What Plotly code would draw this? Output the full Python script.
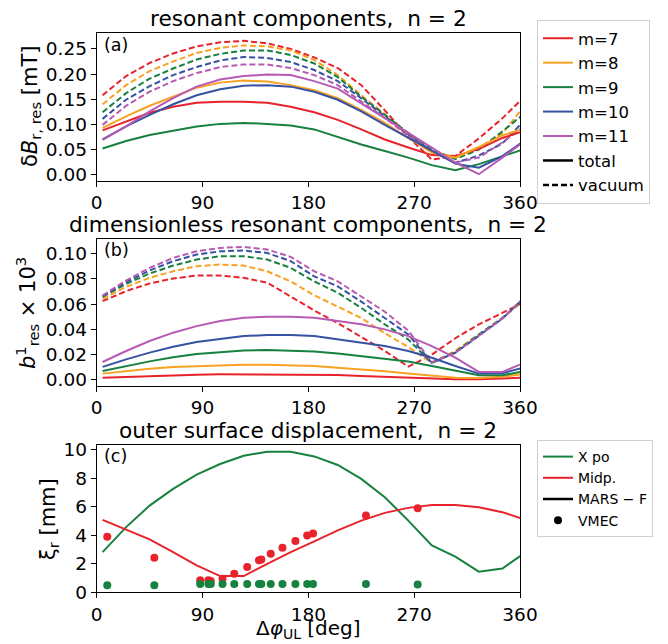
import plotly.graph_objects as go

# ---------------- data ----------------
phase_deg = [5, 25, 45, 65, 85, 105, 125, 145, 165, 185, 205, 225, 245, 265, 285, 305, 325, 345, 365]
mode_names = ["m=7", "m=8", "m=9", "m=10", "m=11"]

# (a) resonant components dB_r,res [mT]
a_total_m7 = [0.088, 0.106, 0.123, 0.135, 0.143, 0.145, 0.145, 0.143, 0.135, 0.124, 0.109, 0.090, 0.070, 0.054, 0.039, 0.037, 0.051, 0.073, 0.088]
a_total_m8 = [0.093, 0.116, 0.137, 0.155, 0.173, 0.183, 0.187, 0.185, 0.178, 0.168, 0.152, 0.129, 0.103, 0.073, 0.044, 0.034, 0.055, 0.078, 0.093]
a_total_m9 = [0.052, 0.067, 0.079, 0.088, 0.096, 0.101, 0.103, 0.101, 0.098, 0.090, 0.075, 0.060, 0.047, 0.034, 0.019, 0.009, 0.021, 0.037, 0.052]
a_total_m10 = [0.070, 0.096, 0.119, 0.140, 0.158, 0.170, 0.177, 0.178, 0.175, 0.165, 0.149, 0.126, 0.099, 0.073, 0.047, 0.022, 0.014, 0.037, 0.070]
a_total_m11 = [0.069, 0.096, 0.126, 0.152, 0.175, 0.189, 0.196, 0.199, 0.198, 0.186, 0.171, 0.142, 0.113, 0.083, 0.054, 0.024, 0.001, 0.034, 0.069]
a_vac_m7 = [0.158, 0.196, 0.222, 0.241, 0.255, 0.263, 0.266, 0.261, 0.250, 0.233, 0.212, 0.178, 0.128, 0.075, 0.030, 0.037, 0.072, 0.112, 0.158]
a_vac_m8 = [0.140, 0.178, 0.206, 0.225, 0.242, 0.252, 0.257, 0.255, 0.247, 0.228, 0.198, 0.158, 0.120, 0.080, 0.044, 0.034, 0.054, 0.082, 0.140]
a_vac_m9 = [0.124, 0.162, 0.191, 0.211, 0.229, 0.240, 0.247, 0.247, 0.238, 0.221, 0.194, 0.155, 0.119, 0.083, 0.050, 0.031, 0.050, 0.086, 0.124]
a_vac_m10 = [0.111, 0.149, 0.176, 0.198, 0.214, 0.227, 0.234, 0.232, 0.224, 0.208, 0.186, 0.152, 0.116, 0.080, 0.047, 0.024, 0.038, 0.062, 0.111]
a_vac_m11 = [0.099, 0.137, 0.165, 0.186, 0.202, 0.214, 0.219, 0.219, 0.212, 0.198, 0.178, 0.145, 0.113, 0.077, 0.047, 0.024, 0.034, 0.064, 0.099]

# (b) dimensionless resonant components b1_res x 10^3
b_total_m7 = [0.0018, 0.0025, 0.0032, 0.0037, 0.0042, 0.0045, 0.0045, 0.0045, 0.0045, 0.0042, 0.0040, 0.0032, 0.0024, 0.0016, 0.0010, 0.0005, 0.0005, 0.0013, 0.0018]
b_total_m8 = [0.0050, 0.0071, 0.0089, 0.0103, 0.0110, 0.0116, 0.0121, 0.0121, 0.0116, 0.0110, 0.0097, 0.0084, 0.0068, 0.0050, 0.0032, 0.0018, 0.0016, 0.0026, 0.0050]
b_total_m9 = [0.0071, 0.0110, 0.0147, 0.0180, 0.0205, 0.0220, 0.0232, 0.0237, 0.0234, 0.0226, 0.0210, 0.0190, 0.0168, 0.0145, 0.0110, 0.0071, 0.0037, 0.0037, 0.0071]
b_total_m10 = [0.0103, 0.0163, 0.0216, 0.0263, 0.0300, 0.0326, 0.0347, 0.0355, 0.0355, 0.0347, 0.0321, 0.0295, 0.0268, 0.0229, 0.0176, 0.0110, 0.0050, 0.0053, 0.0103]
b_total_m11 = [0.0142, 0.0229, 0.0308, 0.0374, 0.0426, 0.0466, 0.0492, 0.0500, 0.0500, 0.0492, 0.0466, 0.0440, 0.0400, 0.0347, 0.0268, 0.0176, 0.0063, 0.0063, 0.0142]
b_vac_m7 = [0.0624, 0.0703, 0.0763, 0.0803, 0.0826, 0.0826, 0.0808, 0.0770, 0.0660, 0.0550, 0.0450, 0.0340, 0.0230, 0.0105, 0.0200, 0.0330, 0.0440, 0.0530, 0.0624]
b_vac_m8 = [0.0642, 0.0737, 0.0808, 0.0860, 0.0900, 0.0913, 0.0905, 0.0860, 0.0780, 0.0670, 0.0580, 0.0490, 0.0370, 0.0260, 0.0135, 0.0230, 0.0360, 0.0490, 0.0642]
b_vac_m9 = [0.0658, 0.0760, 0.0842, 0.0905, 0.0953, 0.0979, 0.0979, 0.0953, 0.0887, 0.0780, 0.0690, 0.0570, 0.0440, 0.0320, 0.0135, 0.0220, 0.0360, 0.0490, 0.0658]
b_vac_m10 = [0.0663, 0.0774, 0.0866, 0.0940, 0.0992, 0.1018, 0.1024, 0.1005, 0.0940, 0.0820, 0.0740, 0.0620, 0.0490, 0.0360, 0.0135, 0.0215, 0.0350, 0.0485, 0.0663]
b_vac_m11 = [0.0668, 0.0787, 0.0887, 0.0966, 0.1018, 0.1045, 0.1053, 0.1032, 0.0974, 0.0860, 0.0780, 0.0660, 0.0540, 0.0390, 0.0140, 0.0215, 0.0350, 0.0485, 0.0668]

# (c) outer surface displacement xi_r [mm]
c_mars_xpoint = [2.82, 4.57, 6.08, 7.25, 8.25, 9.00, 9.58, 9.86, 9.86, 9.53, 8.93, 7.95, 6.67, 5.03, 3.29, 2.50, 1.45, 1.67, 2.82]
c_mars_midplane = [5.08, 4.41, 3.71, 2.82, 1.89, 1.14, 1.14, 2.00, 2.82, 3.57, 4.34, 5.03, 5.57, 5.92, 6.13, 6.13, 5.97, 5.62, 5.08]
vmec_deg = [9, 49, 88, 95, 97, 107, 117, 128, 138, 140, 148, 158, 169, 179, 184, 229, 273]
vmec_midplane = [3.90, 2.42, 0.85, 0.85, 0.80, 0.95, 1.30, 1.77, 2.24, 2.30, 2.70, 3.12, 3.59, 3.99, 4.12, 5.38, 5.89]
vmec_xpoint = [0.50, 0.50, 0.58, 0.58, 0.58, 0.58, 0.58, 0.58, 0.58, 0.58, 0.58, 0.58, 0.58, 0.58, 0.58, 0.58, 0.55]

x_ticks = [0, 90, 180, 270, 360]

# ---------------- styling ----------------
W, H = 668, 644
FONT = "DejaVu Sans"
colors = ["#e8232b", "#f8a224", "#17813f", "#3652a3", "#b75ab3"]


def px(x):
    return x / W


def py(y):
    return 1 - y / H


fig = go.Figure()

a_total = [a_total_m7, a_total_m8, a_total_m9, a_total_m10, a_total_m11]
a_vac = [a_vac_m7, a_vac_m8, a_vac_m9, a_vac_m10, a_vac_m11]
b_total = [b_total_m7, b_total_m8, b_total_m9, b_total_m10, b_total_m11]
b_vac = [b_vac_m7, b_vac_m8, b_vac_m9, b_vac_m10, b_vac_m11]

dash_style = "6px,3px"

for i in range(5):
    fig.add_trace(go.Scatter(x=phase_deg, y=a_vac[i], mode="lines", line=dict(color=colors[i], width=2, dash=dash_style),
                             showlegend=False, xaxis="x", yaxis="y"))
for i in range(5):
    fig.add_trace(go.Scatter(x=phase_deg, y=a_total[i], mode="lines", line=dict(color=colors[i], width=2),
                             name=mode_names[i], legend="legend", xaxis="x", yaxis="y"))
fig.add_trace(go.Scatter(x=[None], y=[None], mode="lines", line=dict(color="black", width=2.5), name="total",
                         legend="legend", xaxis="x", yaxis="y"))
fig.add_trace(go.Scatter(x=[None], y=[None], mode="lines", line=dict(color="black", width=2.5, dash=dash_style),
                         name="vacuum", legend="legend", xaxis="x", yaxis="y"))

for i in range(5):
    fig.add_trace(go.Scatter(x=phase_deg, y=b_vac[i], mode="lines", line=dict(color=colors[i], width=2, dash=dash_style),
                             showlegend=False, xaxis="x2", yaxis="y2"))
for i in range(5):
    fig.add_trace(go.Scatter(x=phase_deg, y=b_total[i], mode="lines", line=dict(color=colors[i], width=2),
                             showlegend=False, xaxis="x2", yaxis="y2"))

green_c = colors[2]
red_c = colors[0]
fig.add_trace(go.Scatter(x=phase_deg, y=c_mars_xpoint, mode="lines", line=dict(color=green_c, width=2),
                         name="X po", legend="legend2", xaxis="x3", yaxis="y3"))
fig.add_trace(go.Scatter(x=phase_deg, y=c_mars_midplane, mode="lines", line=dict(color=red_c, width=2),
                         name="Midp.", legend="legend2", xaxis="x3", yaxis="y3"))
fig.add_trace(go.Scatter(x=vmec_deg, y=vmec_midplane, mode="markers", marker=dict(color=red_c, size=8),
                         showlegend=False, xaxis="x3", yaxis="y3"))
fig.add_trace(go.Scatter(x=vmec_deg, y=vmec_xpoint, mode="markers", marker=dict(color=green_c, size=8),
                         showlegend=False, xaxis="x3", yaxis="y3"))
fig.add_trace(go.Scatter(x=[None], y=[None], mode="lines", line=dict(color="black", width=2.5), name="MARS \u2212 F",
                         legend="legend2", xaxis="x3", yaxis="y3"))
fig.add_trace(go.Scatter(x=[None], y=[None], mode="markers", marker=dict(color="black", size=8), name="VMEC",
                         legend="legend2", xaxis="x3", yaxis="y3"))

tickfont = dict(family=FONT, size=18.5, color="black")
x_dom = [px(96.7), px(520)]


def xax(anchor):
    return dict(domain=x_dom, range=[0, 360], tickvals=x_ticks, ticks="outside", ticklen=5, tickwidth=1,
                tickcolor="black", showline=True, linecolor="black", linewidth=1, mirror=True, showgrid=False,
                zeroline=False, tickfont=tickfont, anchor=anchor)


def yax(dom, rng, tv, fmt, anchor):
    return dict(domain=dom, range=rng, tickvals=tv, tickformat=fmt, ticks="outside", ticklen=5, tickwidth=1,
                tickcolor="black", showline=True, linecolor="black", linewidth=1, mirror=True, showgrid=False,
                zeroline=False, tickfont=tickfont, anchor=anchor)


fig.update_layout(
    width=W, height=H, margin=dict(l=0, r=0, t=0, b=0, autoexpand=False),
    paper_bgcolor="white", plot_bgcolor="white",
    font=dict(family=FONT, color="black"),
    xaxis=xax("y"), xaxis2=xax("y2"), xaxis3=xax("y3"),
    yaxis=yax([py(181), py(33.3)], [-0.0125, 0.281], [0, 0.05, 0.10, 0.15, 0.20, 0.25], ".2f", "x"),
    yaxis2=yax([py(386), py(239.3)], [-0.0048, 0.1113], [0, 0.02, 0.04, 0.06, 0.08, 0.10], ".2f", "x2"),
    yaxis3=yax([py(592.3), py(445)], [0, 10.33], [0, 2, 4, 6, 8, 10], "d", "x3"),
    legend=dict(x=px(537), y=py(20), xanchor="left", yanchor="top", bgcolor="white", bordercolor="#d0d0d0",
                borderwidth=1, font=dict(family=FONT, size=16.5, color="black"), itemwidth=30, tracegroupgap=0),
    legend2=dict(x=px(537), y=py(440), xanchor="left", yanchor="top", bgcolor="white", bordercolor="#d0d0d0",
                 borderwidth=1, font=dict(family=FONT, size=14, color="black"), itemwidth=30, tracegroupgap=0),
    showlegend=True,
)

ann = []
title_font = dict(family=FONT, size=21.7, color="black")
for text, y in [("resonant components,  n = 2", 19), ("dimensionless resonant components,  n = 2", 224),
                ("outer surface displacement,  n = 2", 430)]:
    ann.append(dict(text=text, x=px(308), y=py(y), xref="paper", yref="paper", showarrow=False,
                    xanchor="center", yanchor="middle", font=title_font))
for text, y in [("(a)", 45), ("(b)", 250), ("(c)", 456)]:
    ann.append(dict(text=text, x=px(102), y=py(y), xref="paper", yref="paper", showarrow=False,
                    xanchor="left", yanchor="middle", font=dict(family=FONT, size=17.5, color="black")))
label_font = dict(family=FONT, size=21, color="black")
ann.append(dict(text="\u03b4<i>B</i><sub>r, res</sub> [mT]", x=px(31), y=py(107), xref="paper", yref="paper",
                showarrow=False, textangle=-90, xanchor="center", yanchor="middle", font=label_font))
ann.append(dict(text="<i>b</i><sup>1</sup><sub>res</sub> \u00d7 10<sup>3</sup>", x=px(27), y=py(313), xref="paper",
                yref="paper", showarrow=False, textangle=-90, xanchor="center", yanchor="middle", font=label_font))
ann.append(dict(text="\u03be<sub>r</sub> [mm]", x=px(49), y=py(519), xref="paper", yref="paper",
                showarrow=False, textangle=-90, xanchor="center", yanchor="middle", font=label_font))
ann.append(dict(text="\u0394<i>\u03c6</i><sub>UL</sub> [deg]", x=px(308), y=py(644), xref="paper", yref="paper",
                showarrow=False, xanchor="center", yanchor="bottom", font=dict(family=FONT, size=20, color="black")))
fig.update_layout(annotations=ann)

fig.write_html("out.html")
